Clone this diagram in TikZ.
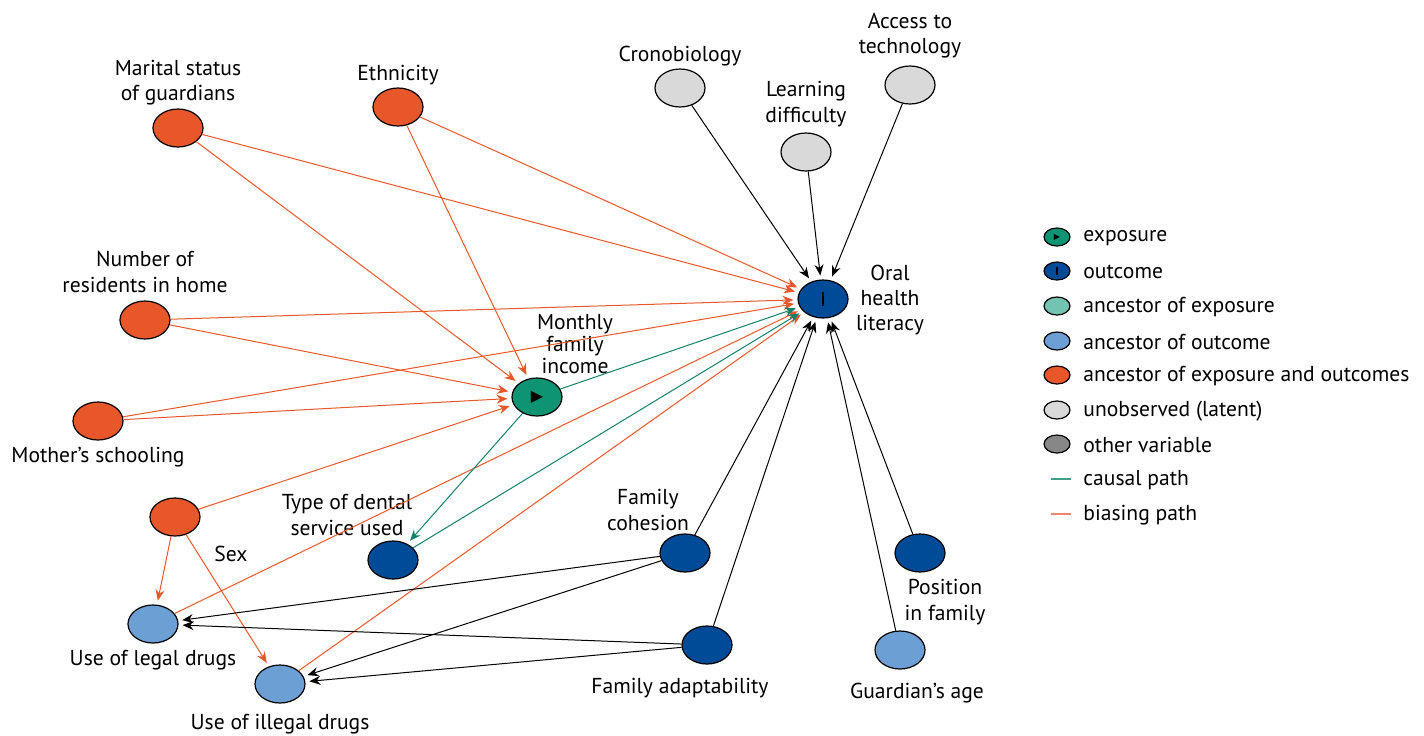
\documentclass[tikz,border=0pt]{standalone}
\usepackage{fontspec}
\setmainfont{PT Sans}
\newfontfamily\symfont{DejaVu Sans}
\usetikzlibrary{arrows.meta,shapes.geometric}
\definecolor{biasorange}{HTML}{E8572A}
\definecolor{expogreen}{HTML}{0E9373}
\definecolor{outblue}{HTML}{004B98}
\definecolor{anclight}{HTML}{6C9FD4}
\definecolor{ancexpo}{HTML}{72C3B1}
\definecolor{latentgray}{HTML}{D9D9D9}
\definecolor{othergray}{HTML}{878787}
\definecolor{causalline}{HTML}{13806A}
\definecolor{causallegend}{HTML}{3E9E86}
\definecolor{biaslegend}{HTML}{F0876A}
\begin{document}
\begin{tikzpicture}[x=0.5pt,y=-0.5pt,
  var/.style={draw, ellipse, line width=0.6pt, minimum width=25pt, minimum height=19pt, inner sep=0pt},
  keyvar/.style={draw, ellipse, line width=0.6pt, minimum width=13pt, minimum height=9pt, inner sep=0pt},
  lab/.style={align=center, inner sep=0pt, font=\fontsize{10.8}{12.6}\selectfont},
  keylab/.style={anchor=west, inner sep=0pt, font=\fontsize{10.8}{12.6}\selectfont},
  bias/.style={draw, biasorange, line width=0.5pt, -{Stealth[length=5.5pt,width=4.5pt]}, shorten >=2pt},
  causal/.style={draw, causalline, line width=0.5pt, -{Stealth[length=5.5pt,width=4.5pt]}, shorten >=2pt},
  plain/.style={draw, black, line width=0.5pt, -{Stealth[length=5.5pt,width=4.5pt]}, shorten >=2pt}]
\useasboundingbox (0,0) rectangle (1424,735);

\node[var, fill=biasorange] (marital) at (178,128) {};
\node[var, fill=biasorange] (ethnic) at (398,107) {};
\node[var, fill=latentgray] (crono) at (680,88) {};
\node[var, fill=latentgray] (learn) at (806,152) {};
\node[var, fill=latentgray] (access) at (910,85) {};
\node[var, fill=outblue] (oral) at (823,299) {\rule{1.4pt}{7pt}};
\node[var, fill=biasorange] (resid) at (145,320) {};
\node[var, fill=expogreen] (income) at (537,397) {\symfont\fontsize{8}{8}\selectfont ▶};
\node[var, fill=biasorange] (mother) at (98,421) {};
\node[var, fill=biasorange] (sex) at (175,517) {};
\node[var, fill=outblue] (dental) at (393,560) {};
\node[var, fill=outblue] (cohes) at (685,553) {};
\node[var, fill=outblue] (adapt) at (707,645) {};
\node[var, fill=outblue] (posit) at (920,553) {};
\node[var, fill=anclight] (guard) at (900,650) {};
\node[var, fill=anclight] (legal) at (153,624) {};
\node[var, fill=anclight] (illegal) at (280,684) {};

\node[lab] (maritallab) at (178,83) {Marital status\\of guardians};
\node[lab] (ethniclab) at (398,75) {Ethnicity};
\node[lab] (cronolab) at (680,56) {Cronobiology};
\node[lab] (learnlab) at (806,104) {Learning\\difficulty};
\node[lab] (accesslab) at (910,36) {Access to\\technology};
\node[lab] (orallab) at (890,300) {Oral\\health\\literacy};
\node[lab] (residlab) at (145,272) {Number of\\residents in home};
\node[lab, font=\fontsize{10.8}{10.8}\selectfont] (incomelab) at (575,344) {Monthly\\family\\income};
\node[lab] (motherlab) at (98,457) {Mother’s schooling};
\node[lab] (sexlab) at (231,554) {Sex};
\node[lab] (dentallab) at (347,515) {Type of dental\\service used};
\node[lab] (coheslab) at (648,510) {Family\\cohesion};
\node[lab] (adaptlab) at (680,688) {Family adaptability};
\node[lab] (positlab) at (945,602) {Position\\in family};
\node[lab] (guardlab) at (917,693) {Guardian’s age};
\node[lab] (legallab) at (153,660) {Use of legal drugs};
\node[lab] (illegallab) at (280,724) {Use of illegal drugs};

\path[bias] (marital) -- (oral);
\path[bias] (marital) -- (income);
\path[bias] (ethnic) -- (oral);
\path[bias] (ethnic) -- (income);
\path[bias] (resid) -- (oral);
\path[bias] (resid) -- (income);
\path[bias] (mother) -- (oral);
\path[bias] (mother) -- (income);
\path[bias] (sex) -- (income);
\path[bias] (sex) -- (legal);
\path[bias] (sex) -- (illegal);
\path[bias] (legal) -- (oral);
\path[bias] (illegal) -- (oral);
\path[causal] (income) -- (oral);
\path[causal] (income) -- (dental);
\path[causal] (dental) -- (oral);
\path[plain] (crono) -- (oral);
\path[plain] (learn) -- (oral);
\path[plain] (access) -- (oral);
\path[plain] (cohes) -- (oral);
\path[plain] (adapt) -- (oral);
\path[plain] (guard) -- (oral);
\path[plain] (posit) -- (oral);
\path[plain] (cohes) -- (legal);
\path[plain] (cohes) -- (illegal);
\path[plain] (adapt) -- (legal);
\path[plain] (adapt) -- (illegal);

\node[keyvar, fill=expogreen] (k1) at (1057,237) {\symfont\fontsize{4}{4}\selectfont ▶};
\node[keyvar, fill=outblue] (k2) at (1057,271) {\rule{0.8pt}{4pt}};
\node[keyvar, fill=ancexpo] (k3) at (1057,306) {};
\node[keyvar, fill=anclight] (k4) at (1057,341) {};
\node[keyvar, fill=biasorange] (k5) at (1057,375) {};
\node[keyvar, fill=latentgray] (k6) at (1057,410) {};
\node[keyvar, fill=othergray] (k7) at (1057,444) {};
\coordinate (k8a) at (1051,479);
\coordinate (k8b) at (1071,479);
\coordinate (k9a) at (1051,514);
\coordinate (k9b) at (1071,514);
\path[draw, causallegend, line width=0.6pt] (k8a) -- (k8b);
\path[draw, biaslegend, line width=0.6pt] (k9a) -- (k9b);

\node[keylab] (k1lab) at (1083,238) {exposure};
\node[keylab] (k2lab) at (1083,272) {outcome};
\node[keylab] (k3lab) at (1083,307) {ancestor of exposure};
\node[keylab] (k4lab) at (1083,342) {ancestor of outcome};
\node[keylab] (k5lab) at (1083,376) {ancestor of exposure and outcomes};
\node[keylab] (k6lab) at (1083,411) {unobserved (latent)};
\node[keylab] (k7lab) at (1083,445) {other variable};
\node[keylab] (k8lab) at (1083,480) {causal path};
\node[keylab] (k9lab) at (1083,515) {biasing path};
\end{tikzpicture}
\end{document}
